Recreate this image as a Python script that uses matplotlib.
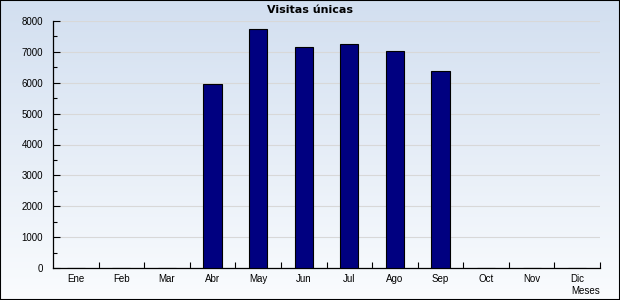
import numpy as np
import matplotlib
matplotlib.use("Agg")
import matplotlib.pyplot as plt
from matplotlib.colors import LinearSegmentedColormap
from matplotlib.patches import Rectangle
from matplotlib.ticker import MultipleLocator, FixedLocator

# ---- data ----
meses = ["Ene", "Feb", "Mar", "Abr", "May", "Jun", "Jul", "Ago", "Sep", "Oct", "Nov", "Dic"]
visitas = [0, 0, 0, 5950, 7730, 7150, 7245, 7020, 6380, 0, 0, 0]

plt.rcParams["font.family"] = ["Liberation Sans", "DejaVu Sans"]

fig = plt.figure(figsize=(6.2, 3.0), dpi=100)

# background gradient (light blue at top -> near white at bottom)
bg = fig.add_axes([0, 0, 1, 1], zorder=0)
cmap = LinearSegmentedColormap.from_list("bg", ["#fafcfe", "#d2dff0"])
grad = np.linspace(0, 1, 256).reshape(-1, 1)
bg.imshow(grad, aspect="auto", cmap=cmap, origin="lower", extent=[0, 1, 0, 1])
bg.add_patch(Rectangle((0, 0), 1, 1, transform=bg.transAxes, fill=False,
                       edgecolor="black", linewidth=1.5))
bg.set_axis_off()

ax = fig.add_axes([53 / 620, 1 - 268 / 300, 547 / 620, 247 / 300], zorder=1)
ax.patch.set_alpha(0)

x = np.arange(len(meses)) + 0.5
ax.bar(x, visitas, width=0.4, color="#000080", edgecolor="black", linewidth=0.8, zorder=3)

ax.set_xlim(0, 12)
ax.set_ylim(0, 8000)

# y axis: major every 1000, minor every 500, ticks inward
ax.yaxis.set_major_locator(MultipleLocator(1000))
ax.yaxis.set_minor_locator(MultipleLocator(500))
ax.tick_params(axis="y", which="major", direction="in", length=5, width=0.8,
               labelsize=7, pad=7)
ax.tick_params(axis="y", which="minor", direction="in", length=3, width=0.8)

# x axis: ticks at category boundaries, labels centred
ax.xaxis.set_major_locator(FixedLocator(x))
ax.set_xticklabels(meses)
ax.xaxis.set_minor_locator(FixedLocator(np.arange(1, 13)))
ax.tick_params(axis="x", which="major", length=0, labelsize=7, pad=4)
ax.tick_params(axis="x", which="minor", direction="in", length=4, width=0.8)

ax.grid(axis="y", which="major", color="#d8d8d8", linewidth=0.8, zorder=1)
ax.set_axisbelow(True)

for s in ["top", "right"]:
    ax.spines[s].set_visible(False)
for s in ["left", "bottom"]:
    ax.spines[s].set_linewidth(0.9)
    ax.spines[s].set_color("black")

fig.text(310 / 620, 1 - 10 / 300, "Visitas únicas", ha="center", va="center",
         fontsize=8, fontweight="bold", family="DejaVu Sans")
fig.text(600 / 620, 1 - 291 / 300, "Meses", ha="right", va="center", fontsize=7)

fig.savefig("out.png", dpi=100)
